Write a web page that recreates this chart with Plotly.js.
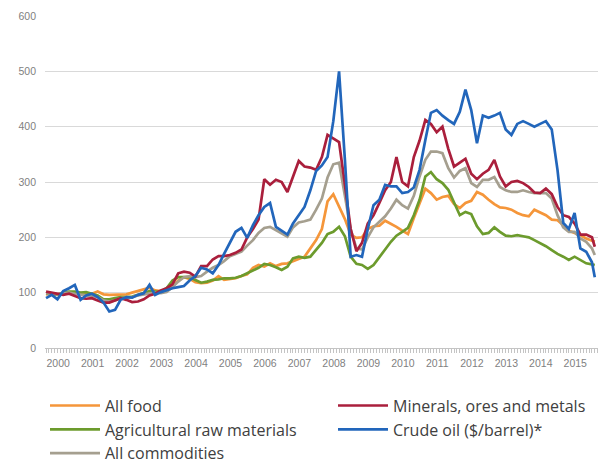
<!DOCTYPE html>
<html>
<head>
<meta charset="utf-8">
<script src="https://cdn.plot.ly/plotly-3.0.1.min.js"></script>
<style>html,body{margin:0;padding:0;background:#fff;}#chart{width:606px;height:463px;}</style>
</head>
<body>
<div id="chart"></div>
<script>
// Sampling months (every second month, plus December of the last year)
const years = [2000,2001,2002,2003,2004,2005,2006,2007,2008,2009,2010,2011,2012,2013,2014,2015];
const months = ['01','03','05','07','09','11'];
const lastMonth = '2015-12-01';

// Price indices (2000 = 100)
const allFood = [
  97, 98, 97, 99, 100, 98,
  99, 97, 98, 102, 97, 96,
  96, 97, 97, 100, 103, 106,
  109, 104, 103, 104, 112, 122,
  128, 125, 119, 117, 118, 122,
  130, 123, 125, 126, 130, 133,
  145, 150, 147, 153, 148, 152,
  153, 157, 160, 165, 180, 195,
  215, 265, 278, 255, 233, 205,
  199, 200, 215, 220, 221, 230,
  225, 219, 212, 206, 235, 262,
  288, 280, 268, 273, 275, 260,
  253, 262, 266, 282, 277, 268,
  260, 254, 253, 250, 244, 240,
  238, 250, 245, 240, 232, 231,
  222, 212, 208, 204, 198, 194, 192
];
const minerals = [
  102, 100, 97, 96, 98, 94,
  90, 89, 90, 86, 82, 82,
  86, 90, 87, 83, 84, 88,
  95, 98, 104, 108, 115, 135,
  138, 136, 129, 148, 148, 160,
  166, 166, 168, 172, 178, 200,
  215, 232, 305, 295, 304, 300,
  282, 310, 338, 328, 326, 322,
  345, 385, 378, 372, 295, 215,
  175, 190, 225, 240, 262, 285,
  300, 345, 300, 292, 345, 375,
  412, 405, 390, 400, 360, 328,
  335, 342, 315, 305, 315, 322,
  340, 310, 292, 300, 302, 298,
  291, 281, 280, 288, 278, 255,
  240, 237, 225, 205, 205, 200, 183
];
const agriRaw = [
  99, 97, 96, 100, 102, 102,
  100, 101, 98, 95, 88, 88,
  90, 92, 92, 93, 96, 100,
  103, 102, 102, 108, 122, 128,
  128, 128, 123, 118, 120, 123,
  124, 126, 126, 127, 130, 135,
  140, 145, 152, 150, 146, 141,
  147, 162, 165, 163, 165, 178,
  190, 206, 210, 219, 202, 165,
  152, 150, 143, 150, 165, 178,
  192, 203, 210, 217, 240, 268,
  310, 318, 305, 298, 286, 262,
  240, 246, 242, 220, 206, 208,
  218, 210, 203, 202, 204, 202,
  200, 195, 190, 184, 177, 170,
  165, 159, 165, 159, 153, 151, 150
];
const crudeOil = [
  90, 96, 88, 103, 108, 114,
  87, 95, 98, 92, 82, 66,
  69, 87, 92, 91, 96, 99,
  114, 96, 101, 105, 108, 110,
  112, 122, 130, 145, 142, 135,
  150, 170, 190, 210, 217, 199,
  222, 240, 255, 262, 219, 212,
  205, 225, 240, 255, 285, 320,
  330, 345, 410, 500, 340, 165,
  168, 165, 215, 258, 268, 295,
  292, 292, 280, 282, 290, 322,
  376, 425, 430, 420, 412, 405,
  427, 467, 430, 370, 420, 416,
  420, 425, 395, 385, 405, 410,
  405, 400, 405, 410, 395, 322,
  226, 215, 244, 180, 174, 155, 128
];
const allCommodities = [
  99, 98, 97, 99, 100, 98,
  96, 95, 94, 92, 86, 84,
  86, 90, 91, 92, 95, 97,
  99, 100, 99, 101, 110, 120,
  128, 130, 128, 130, 138, 145,
  150, 157, 166, 170, 174, 185,
  195, 208, 217, 219, 213, 206,
  201, 218, 227, 229, 232, 250,
  270, 308, 332, 335, 275, 215,
  180, 178, 200, 218, 228, 238,
  252, 268, 258, 252, 275, 310,
  340, 355, 355, 352, 325, 308,
  320, 325, 298, 291, 304, 304,
  309, 291, 285, 282, 282, 285,
  282, 280, 280, 280, 270, 240,
  218, 210, 210, 198, 192, 180, 168
];

const seriesNames = ['All food', 'Minerals, ores and metals', 'Agricultural raw materials', 'Crude oil ($/barrel)*', 'All commodities'];

const dates = [];
years.forEach(y => months.forEach(m => dates.push(y + '-' + m + '-01')));
dates.push(lastMonth);

const colors = {
  food: '#F5963A', minerals: '#AA1F3C', agri: '#6C9B2D', oil: '#2266BB', all: '#A59F8F'
};

function tr(name, y, color, rank, legendId) {
  return {
    type: 'scatter', mode: 'lines', x: dates, y: y, name: name,
    line: {color: color, width: 2.7}, legendrank: rank, legend: legendId, hoverinfo: 'skip'
  };
}

const data = [
  tr(seriesNames[0], allFood, colors.food, 1, 'legend'),
  tr(seriesNames[2], agriRaw, colors.agri, 2, 'legend'),
  tr(seriesNames[4], allCommodities, colors.all, 3, 'legend'),
  tr(seriesNames[1], minerals, colors.minerals, 1, 'legend2'),
  tr(seriesNames[3], crudeOil, colors.oil, 2, 'legend2')
];

const legendFont = {family: 'Open Sans, Roboto, sans-serif', size: 16, color: '#404040'};
const tickFont = {family: 'Liberation Sans, Arial, sans-serif', size: 10.5, color: '#7f7f7f'};

const layout = {
  width: 606, height: 463,
  margin: {l: 45, r: 8, t: 16, b: 115, autoexpand: false},
  paper_bgcolor: '#ffffff', plot_bgcolor: '#ffffff',
  showlegend: true,
  xaxis: {
    type: 'date',
    range: ['1999-12-21', '2016-01-04'],
    tickmode: 'linear', tick0: '2000-05-08', dtick: 'M12', tickformat: '%Y',
    ticks: 'outside', ticklen: 5, tickcolor: 'rgba(0,0,0,0)',
    minor: {dtick: 'M1', tick0: '2000-01-01', ticks: 'outside', ticklen: 4, tickcolor: '#c4c4c4', tickwidth: 1, showgrid: false},
    showgrid: false, zeroline: false,
    showline: true, linecolor: '#c4c4c4', linewidth: 1,
    tickfont: tickFont
  },
  yaxis: {
    range: [0, 600], dtick: 100, tick0: 0,
    showgrid: true, gridcolor: '#d9d9d9', gridwidth: 1,
    zeroline: false, showline: false, ticks: '', ticklabelstandoff: 8,
    tickfont: tickFont
  },
  legend: {
    orientation: 'v', x: 0, xanchor: 'left', y: -0.1223, yanchor: 'top',
    itemwidth: 50, font: legendFont, bgcolor: 'rgba(0,0,0,0)', traceorder: 'normal'
  },
  legend2: {
    orientation: 'v', x: 0.5208, xanchor: 'left', y: -0.1223, yanchor: 'top',
    itemwidth: 50, font: legendFont, bgcolor: 'rgba(0,0,0,0)', traceorder: 'normal'
  }
};

Plotly.newPlot('chart', data, layout, {displayModeBar: false, staticPlot: true});
</script>
</body>
</html>
